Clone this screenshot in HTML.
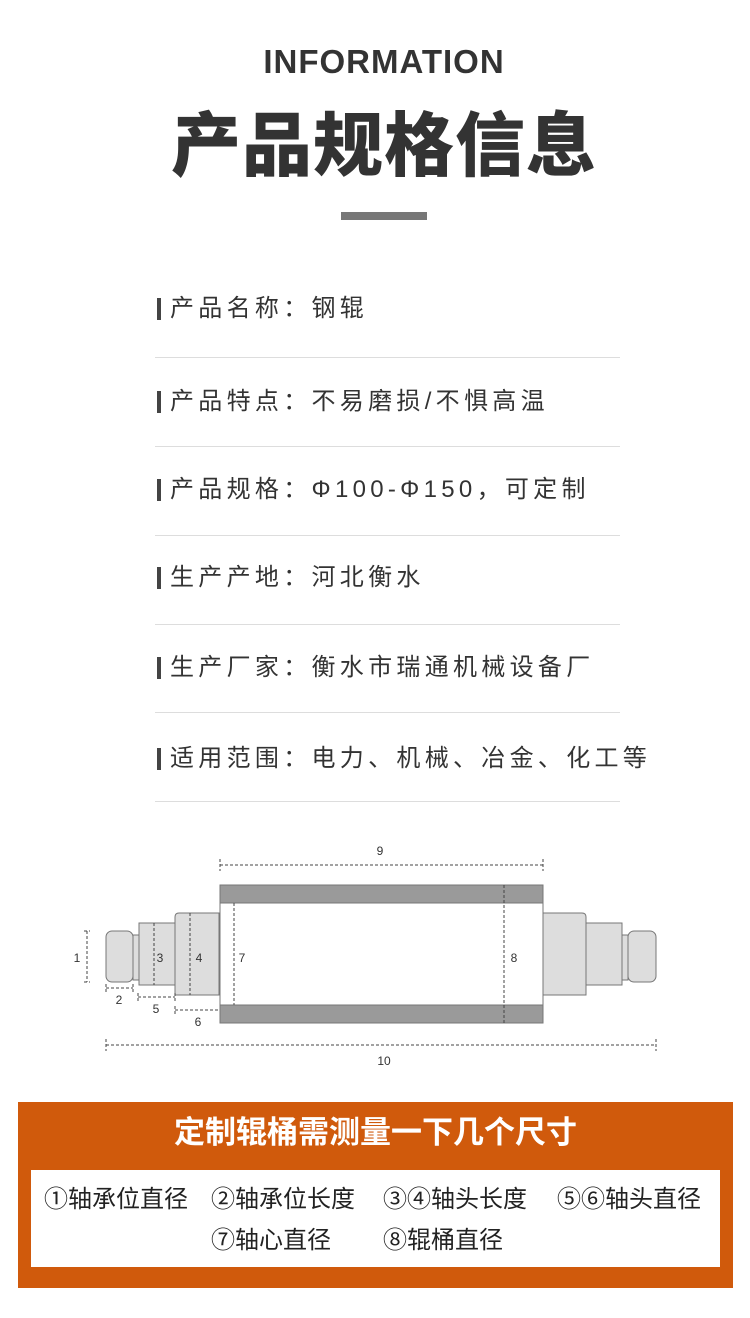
<!DOCTYPE html>
<html><head><meta charset="utf-8"><style>
*{margin:0;padding:0;box-sizing:border-box}
body{width:750px;height:1318px;background:#fff;position:relative;overflow:hidden;font-family:"Liberation Sans","Noto Sans CJK SC",sans-serif;color:#333}
.a{position:absolute;white-space:nowrap}
.row{position:absolute;left:157px;font-size:24px;color:#333;line-height:30px;letter-spacing:4.3px}
.row:before{content:"";position:absolute;left:0;top:4px;width:4px;height:22px;background:#444}
.row span{margin-left:13px}
.hr{position:absolute;left:155px;width:465px;height:1px;background:#ddd}
.it{position:absolute;font-size:24px;color:#222;line-height:28px;white-space:nowrap}
</style></head><body>
<div class="a" style="left:0;width:768px;text-align:center;top:43px;font-size:33px;font-weight:bold;color:#333;letter-spacing:1px">INFORMATION</div>
<div class="a" style="left:0;width:768px;text-align:center;top:101px;font-size:70px;font-weight:900;color:#333;line-height:90px;letter-spacing:1px">产品规格信息</div>
<div class="a" style="left:341px;top:212px;width:86px;height:8px;background:#777"></div>

<div class="row" style="top:294px"><span>产品名称：钢辊</span></div>
<div class="hr" style="top:357px"></div>
<div class="row" style="top:387px"><span>产品特点：不易磨损/不惧高温</span></div>
<div class="hr" style="top:446px"></div>
<div class="row" style="top:475px"><span>产品规格：Φ100-Φ150，可定制</span></div>
<div class="hr" style="top:535px"></div>
<div class="row" style="top:563px"><span>生产产地：河北衡水</span></div>
<div class="hr" style="top:624px"></div>
<div class="row" style="top:653px"><span>生产厂家：衡水市瑞通机械设备厂</span></div>
<div class="hr" style="top:712px"></div>
<div class="row" style="top:744px"><span>适用范围：电力、机械、冶金、化工等</span></div>
<div class="hr" style="top:801px"></div>

<svg class="a" style="left:0;top:0" width="750" height="1100" viewBox="0 0 750 1100">
<g stroke="#777" stroke-width="1" fill="#ddd">
<rect x="106" y="931" width="27" height="51" rx="6"/>
<rect x="133" y="935" width="6" height="45"/>
<rect x="139" y="923" width="36" height="62"/>
<path d="M175 995 V917 Q175 913 179 913 H219 V995 Z"/>
<rect x="628" y="931" width="28" height="51" rx="6"/>
<rect x="622" y="935" width="6" height="45"/>
<rect x="586" y="923" width="36" height="62"/>
<path d="M543 995 V913 H582 Q586 913 586 917 V995 Z"/>
<rect x="220" y="885" width="323" height="138" fill="#fff"/>
<rect x="220" y="885" width="323" height="18" fill="#9a9a9a"/>
<rect x="220" y="1005" width="323" height="18" fill="#9a9a9a"/>
</g>
<g stroke="#444" stroke-width="1" stroke-dasharray="3,2" fill="none">
<path d="M220 865H543M220 859V871M543 859V871"/>
<path d="M504 885V1023M234 903V1005M190 913V995M154 923V985"/>
<path d="M87 931V982M84 931H90M84 982H90"/>
<path d="M106 988H133M106 984V992M133 984V992"/>
<path d="M138 997H175M138 993V1001M175 993V1001"/>
<path d="M175 1010H219M175 1006V1014"/>
<path d="M106 1045H656M106 1039V1051M656 1039V1051"/>
</g>
<g font-family="Liberation Sans,sans-serif" font-size="12" fill="#333" text-anchor="middle">
<text x="380" y="855">9</text><text x="77" y="962">1</text><text x="160" y="962">3</text><text x="199" y="962">4</text>
<text x="242" y="962">7</text><text x="514" y="962">8</text><text x="119" y="1004">2</text><text x="156" y="1013">5</text>
<text x="198" y="1026">6</text><text x="384" y="1065">10</text>
</g>
</svg>

<div class="a" style="left:18px;top:1102px;width:715px;height:186px;background:#d05a0c"></div>
<div class="a" style="left:18px;width:715px;text-align:center;top:1114px;font-size:31px;font-weight:bold;color:#fff;line-height:38px">定制辊桶需测量一下几个尺寸</div>
<div class="a" style="left:31px;top:1170px;width:689px;height:97px;background:#fff"></div>
<div class="it" style="left:44px;top:1186px">①轴承位直径</div>
<div class="it" style="left:211px;top:1186px">②轴承位长度</div>
<div class="it" style="left:383px;top:1186px">③④轴头长度</div>
<div class="it" style="left:557px;top:1186px">⑤⑥轴头直径</div>
<div class="it" style="left:211px;top:1227px">⑦轴心直径</div>
<div class="it" style="left:383px;top:1227px">⑧辊桶直径</div>
</body></html>
